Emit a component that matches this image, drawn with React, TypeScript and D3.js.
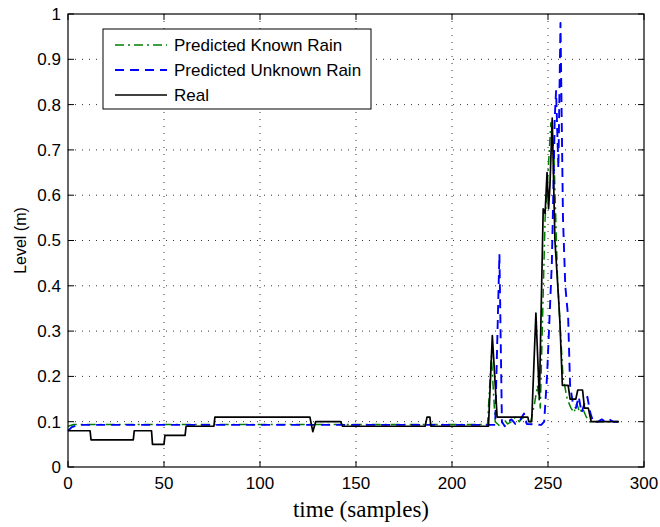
import React from 'react'
import * as d3 from 'd3'

// samples and levels
const realT = [0, 11.5, 12, 34, 34.5, 43.5, 44, 50, 50.5, 61, 61.5, 76, 76.5, 126, 127.5, 129, 142, 143, 186, 187, 188.5, 189, 219, 221, 223.5, 239.5, 240, 241.5, 243.7, 245.5, 247.5, 248.5, 249.5, 250.3, 251, 252.2, 253.6, 255.4, 256.2, 257.5, 260.5, 261.5, 264.5, 265.5, 268, 269, 271, 272.5, 287]
const realV = [0.08, 0.08, 0.06, 0.06, 0.08, 0.08, 0.05, 0.05, 0.07, 0.07, 0.09, 0.09, 0.11, 0.11, 0.078, 0.1, 0.1, 0.09, 0.09, 0.11, 0.11, 0.09, 0.09, 0.29, 0.11, 0.11, 0.1, 0.1, 0.34, 0.15, 0.57, 0.56, 0.65, 0.57, 0.62, 0.77, 0.5, 0.38, 0.32, 0.18, 0.18, 0.15, 0.15, 0.17, 0.17, 0.13, 0.13, 0.1, 0.1]

const knownT = [0, 3, 218.5, 220.5, 222.5, 225, 227, 229, 231, 233, 235, 237, 239, 241, 243, 244.5, 246, 247, 248.5, 250, 251.5, 253, 255, 257.8, 260, 262, 263.5, 265, 266.5, 268, 270, 271.5, 287]
const knownV = [0.09, 0.094, 0.094, 0.245, 0.1, 0.09, 0.105, 0.095, 0.1, 0.11, 0.1, 0.11, 0.095, 0.1, 0.14, 0.18, 0.13, 0.3, 0.55, 0.65, 0.76, 0.7, 0.41, 0.2, 0.15, 0.13, 0.12, 0.14, 0.12, 0.13, 0.11, 0.1, 0.1]

const unknownT = [0, 2, 5, 222.5, 224.7, 226, 227.5, 229, 231, 233, 235, 237.5, 239, 246.5, 248, 249.5, 251, 252, 253, 253.5, 254.2, 255.4, 256.5, 257.8, 259, 260.5, 261.5, 263, 264.5, 266, 267.5, 269, 270.5, 272, 273.5, 276, 278, 280, 282, 284, 287]
const unknownV = [0.08, 0.088, 0.093, 0.093, 0.47, 0.1, 0.09, 0.1, 0.105, 0.095, 0.1, 0.118, 0.095, 0.093, 0.1, 0.2, 0.35, 0.45, 0.65, 0.77, 0.83, 0.66, 0.98, 0.55, 0.4, 0.33, 0.18, 0.14, 0.13, 0.155, 0.12, 0.14, 0.155, 0.12, 0.1, 0.1, 0.105, 0.1, 0.105, 0.1, 0.1]

const xTicks = [0, 50, 100, 150, 200, 250, 300]
const yTicks = [0, 0.1, 0.2, 0.3, 0.4, 0.5, 0.6, 0.7, 0.8, 0.9, 1]
const legendLabels = ['Predicted Known Rain', 'Predicted Unknown Rain', 'Real']

const W = 660
const H = 527
const margin = { top: 14, right: 16, bottom: 60, left: 68 }
const sans = '"Liberation Sans", Arial, Helvetica, sans-serif'
const serif = '"Liberation Serif", "Times New Roman", serif'

function App() {
  const width = W - margin.left - margin.right
  const height = H - margin.top - margin.bottom

  const x = d3.scaleLinear().domain([0, 300]).range([0, width])
  const y = d3.scaleLinear().domain([0, 1]).range([height, 0])

  const line = d3
    .line<[number, number]>()
    .x((d) => x(d[0]))
    .y((d) => y(d[1]))

  const zip = (t: number[], v: number[]) => t.map((d, i) => [d, v[i]] as [number, number])

  const series = [
    { name: legendLabels[0], pts: zip(knownT, knownV), color: '#008000', dash: '9,4,2,4', w: 1.5 },
    { name: legendLabels[1], pts: zip(unknownT, unknownV), color: '#0000ff', dash: '9,6', w: 1.9 },
    { name: legendLabels[2], pts: zip(realT, realV), color: '#000000', dash: null, w: 1.7 },
  ]

  const tickLen = 6

  return (
    <svg width={W} height={H} style={{ position: 'absolute', left: 0, top: 0, background: '#fff' }}>
      <g transform={`translate(${margin.left},${margin.top})`}>
        {/* grid */}
        {xTicks.slice(1, -1).map((t) => (
          <line key={'gx' + t} x1={x(t)} x2={x(t)} y1={0} y2={height} stroke="#000" strokeWidth={0.8} strokeDasharray="1,6" />
        ))}
        {yTicks.slice(1, -1).map((t) => (
          <line key={'gy' + t} x1={0} x2={width} y1={y(t)} y2={y(t)} stroke="#000" strokeWidth={0.8} strokeDasharray="1,6" />
        ))}

        {/* data */}
        {series.map((s) => (
          <path
            key={s.name}
            d={line(s.pts) || ''}
            fill="none"
            stroke={s.color}
            strokeWidth={s.w}
            strokeDasharray={s.dash || undefined}
            strokeLinejoin="round"
          />
        ))}

        {/* box and ticks */}
        <rect x={0} y={0} width={width} height={height} fill="none" stroke="#000" strokeWidth={1.2} />
        {xTicks.map((t) => (
          <g key={'tx' + t}>
            <line x1={x(t)} x2={x(t)} y1={height} y2={height - tickLen} stroke="#000" />
            <line x1={x(t)} x2={x(t)} y1={0} y2={tickLen} stroke="#000" />
            <text x={x(t)} y={height + 22} textAnchor="middle" fontFamily={sans} fontSize={17}>
              {t}
            </text>
          </g>
        ))}
        {yTicks.map((t) => (
          <g key={'ty' + t}>
            <line x1={0} x2={tickLen} y1={y(t)} y2={y(t)} stroke="#000" />
            <line x1={width} x2={width - tickLen} y1={y(t)} y2={y(t)} stroke="#000" />
            <text x={-7} y={y(t)} dy="0.35em" textAnchor="end" fontFamily={sans} fontSize={17}>
              {d3.format('~g')(t)}
            </text>
          </g>
        ))}

        {/* legend */}
        <g transform={`translate(${103 - margin.left},${29 - margin.top})`}>
          <rect x={0} y={0} width={268} height={80} fill="#fff" stroke="#000" strokeWidth={1} />
          {series.map((s, i) => (
            <g key={'lg' + i} transform={`translate(0,${16 + i * 25})`}>
              <line x1={12} x2={64} y1={0} y2={0} stroke={s.color} strokeWidth={s.w} strokeDasharray={s.dash || undefined} />
              <text x={71} y={0} dy="0.35em" fontFamily={sans} fontSize={17}>
                {s.name}
              </text>
            </g>
          ))}
        </g>

        {/* axis labels */}
        <text x={width / 2 + 5} y={height + 50} textAnchor="middle" fontFamily={serif} fontSize={23}>
          time (samples)
        </text>
        <text transform={`translate(${-42},${height / 2}) rotate(-90)`} textAnchor="middle" fontFamily={sans} fontSize={16}>
          Level (m)
        </text>
      </g>
    </svg>
  )
}

export default App
